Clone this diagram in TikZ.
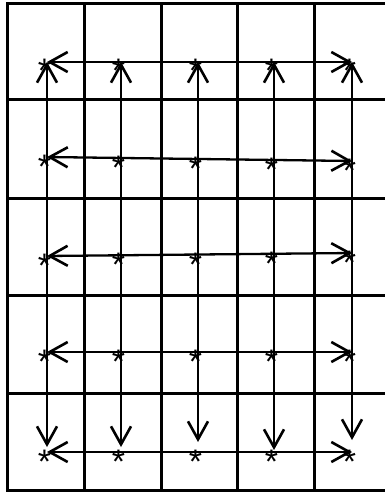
\documentclass[tikz,border=0pt]{standalone}
\usepackage{fontspec}
\setmainfont{Liberation Sans}
\usetikzlibrary{arrows.meta}
\begin{document}
\begin{tikzpicture}[x=1pt,y=-1pt,
  gridline/.style={line width=3pt, line cap=rect},
  vee/.tip={Straight Barb[length=18pt,width=20pt,line width=2.6pt]},
  arr/.style={line width=2.3pt, vee-vee},
  star/.style={inner sep=0pt, outer sep=0pt, minimum size=0pt,
    font=\fontsize{34}{34}\selectfont}]
\useasboundingbox (0,0) rectangle (384,492);
\newcommand{\astx}{\makebox[0pt]{\raisebox{-21pt}[0pt][0pt]{*}\hspace{5pt}}}
% table
\foreach \yy in {4,100,198,295,393,490} \draw[gridline] (7,\yy) -- (386,\yy);
\foreach \xx in {7,84,161,237,314} \draw[gridline] (\xx,4) -- (\xx,490);
% stars
\node[star] (s11) at (47,62) {\astx};
\node[star] (s12) at (121,62) {\astx};
\node[star] (s13) at (198,62) {\astx};
\node[star] (s14) at (274,62) {\astx};
\node[star] (s15) at (352,62) {\astx};
\node[star] (s21) at (47,157) {\astx};
\node[star] (s22) at (121,158) {\astx};
\node[star] (s23) at (198,159) {\astx};
\node[star] (s24) at (274,160) {\astx};
\node[star] (s25) at (352,161) {\astx};
\node[star] (s31) at (47,256) {\astx};
\node[star] (s32) at (121,255.5) {\astx};
\node[star] (s33) at (198,255) {\astx};
\node[star] (s34) at (274,254) {\astx};
\node[star] (s35) at (352,253) {\astx};
\node[star] (s41) at (47,352) {\astx};
\node[star] (s42) at (121,352) {\astx};
\node[star] (s43) at (198,352) {\astx};
\node[star] (s44) at (274,352) {\astx};
\node[star] (s45) at (352,352) {\astx};
\node[star] (s51) at (47,452) {\astx};
\node[star] (s52) at (121,452) {\astx};
\node[star] (s53) at (198,452) {\astx};
\node[star] (s54) at (274,452) {\astx};
\node[star] (s55) at (352,452) {\astx};
% horizontal arrows
\foreach \r in {1,...,5} \draw[arr] (s\r1) -- (s\r5);
% vertical arrows
\draw[arr, shorten >=5pt] (s11) -- (s51);
\draw[arr, shorten >=5pt] (s12) -- (s52);
\draw[arr, shorten >=10pt] (s13) -- (s53);
\draw[arr, shorten >=2pt] (s14) -- (s54);
\draw[arr, shorten >=12pt] (s15) -- (s55);
\end{tikzpicture}
\end{document}
